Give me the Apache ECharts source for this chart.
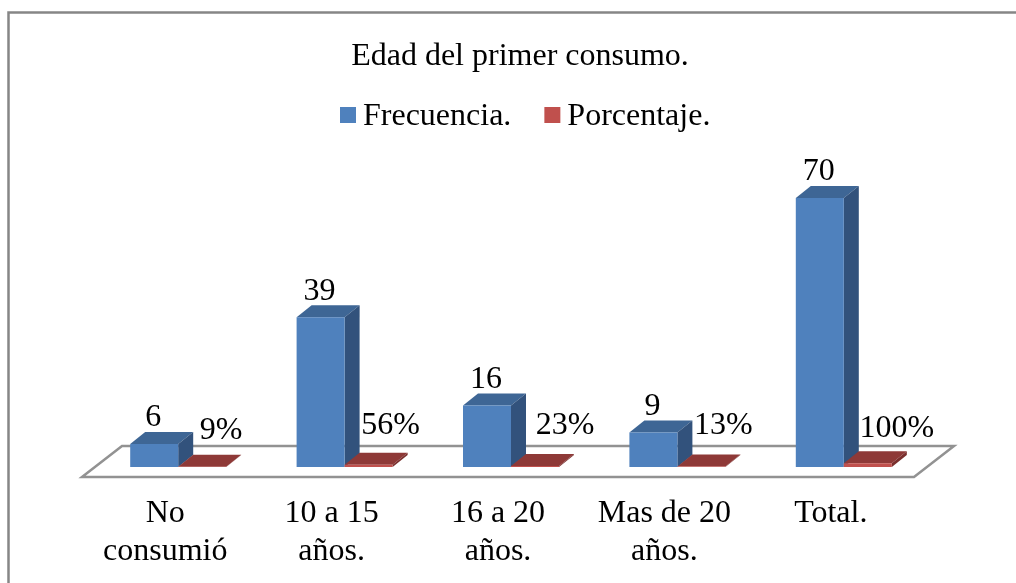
<!DOCTYPE html>
<html>
<head>
<meta charset="utf-8">
<script src="https://cdn.jsdelivr.net/npm/echarts@6/dist/echarts.min.js"></script>
<style>
html, body { margin: 0; background: #fff; }
#chart { width: 1016px; height: 583px; }
</style>
</head>
<body>
<div id="chart"></div>
<script>
const categories = ['No\nconsumió', '10 a 15\naños.', '16 a 20\naños.', 'Mas de 20\naños.', 'Total.']
const frecuencia = [6, 39, 16, 9, 70]
const porcentaje = [9, 56, 23, 13, 100]

const FONT = '"Liberation Serif", "Times New Roman", serif'
const BAR_W = 48
const DEPTH_X = 15
const DEPTH_Y = 12
// las etiquetas de porcentaje no van centradas en la barra
const pctLabelDx = [19, 22, 30, 22, 29]
const pctLabelDy = [-36, -41, -41, -41, -38]

function box (x, top, base, colors) {
  return [
    { type: 'polygon', shape: { points: [[x, top], [x + DEPTH_X, top - DEPTH_Y], [x + BAR_W + DEPTH_X, top - DEPTH_Y], [x + BAR_W, top]] }, style: { fill: colors[1] } },
    { type: 'polygon', shape: { points: [[x + BAR_W, top], [x + BAR_W + DEPTH_X, top - DEPTH_Y], [x + BAR_W + DEPTH_X, base - DEPTH_Y], [x + BAR_W, base]] }, style: { fill: colors[2] } },
    { type: 'rect', shape: { x: x, y: top, width: BAR_W, height: base - top }, style: { fill: colors[0] } }
  ]
}

function label (text, x, y) {
  return { type: 'text', style: { text: text, x: x, y: y, align: 'center', verticalAlign: 'middle', font: '32px ' + FONT, fill: '#000' } }
}

const chart = echarts.init(document.getElementById('chart'))
chart.setOption({
  animation: false,
  backgroundColor: '#fff',
  color: ['#4F81BD', '#C0504D'],
  title: {
    text: 'Edad del primer consumo.',
    left: 515,
    top: 36,
    textAlign: 'center',
    textStyle: { fontFamily: FONT, fontSize: 32, fontWeight: 'normal', color: '#000' }
  },
  legend: {
    left: 335,
    top: 96,
    icon: 'rect',
    itemWidth: 16,
    itemHeight: 16,
    itemGap: 33,
    formatter: name => '{a|' + name + '}',
    textStyle: {
      rich: {
        a: { fontFamily: FONT, fontSize: 32, color: '#000', padding: [4, 0, 0, 2] }
      }
    },
    data: ['Frecuencia.', 'Porcentaje.']
  },
  grid: { left: 82, width: 832, top: 198, height: 269 },
  xAxis: {
    type: 'category',
    data: categories,
    axisLine: { show: false },
    axisTick: { show: false },
    axisLabel: { margin: 28, interval: 0, fontFamily: FONT, fontSize: 32, lineHeight: 38, color: '#000' }
  },
  yAxis: { type: 'value', min: 0, max: 70, show: false },
  graphic: [{
    type: 'rect',
    silent: true,
    z: -1,
    shape: { x: 8.5, y: 12.5, width: 1100, height: 700 },
    style: { fill: 'none', stroke: '#868686', lineWidth: 2.5 }
  }],
  series: [
    {
      // piso del grafico
      type: 'custom',
      z: 1,
      silent: true,
      data: [0],
      renderItem: function (params, api) {
        const cs = params.coordSys
        const front = cs.y + cs.height + 10
        const back = cs.y + cs.height - 21
        return {
          type: 'polygon',
          shape: { points: [[cs.x, front], [cs.x + 40, back], [cs.x + cs.width + 40, back], [cs.x + cs.width, front]] },
          style: { fill: 'none', stroke: '#929292', lineWidth: 2.5 }
        }
      }
    },
    {
      name: 'Frecuencia.',
      type: 'custom',
      z: 2,
      itemStyle: { color: '#4F81BD' },
      data: frecuencia.map((v, i) => [i, v]),
      renderItem: function (params, api) {
        const p = api.coord([api.value(0), api.value(1)])
        const base = api.coord([api.value(0), 0])[1]
        const x = p[0] - 35
        return {
          type: 'group',
          children: box(x, p[1], base, ['#4F81BD', '#3E6695', '#32527C']).concat([
            label(String(api.value(1)), x + 23, p[1] - 26)
          ])
        }
      }
    },
    {
      name: 'Porcentaje.',
      type: 'custom',
      z: 3,
      itemStyle: { color: '#C0504D' },
      data: porcentaje.map((v, i) => [i, v / 100]),
      renderItem: function (params, api) {
        const i = params.dataIndex
        const p = api.coord([api.value(0), api.value(1)])
        const base = api.coord([api.value(0), 0])[1]
        const x = p[0] + 13
        return {
          type: 'group',
          children: box(x, p[1], base, ['#C0504D', '#8E3937', '#7A2F2D']).concat([
            label(porcentaje[i] + '%', x + 24 + pctLabelDx[i], base + pctLabelDy[i])
          ])
        }
      }
    }
  ]
})
</script>
</body>
</html>
